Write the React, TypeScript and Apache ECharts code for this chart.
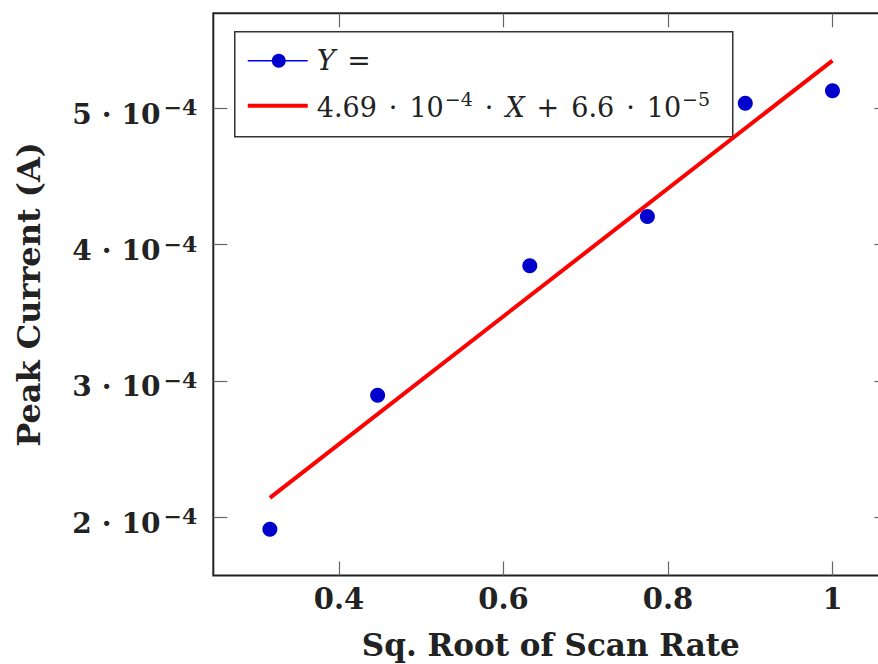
import React, { useEffect, useRef } from "react";
import * as echarts from "echarts";

const scanRateRoot = [0.316, 0.447, 0.632, 0.775, 0.894, 1.0];
const peakCurrent = [1.912e-4, 2.896e-4, 3.846e-4, 4.206e-4, 5.038e-4, 5.128e-4];
const fitSlope = 4.69e-4;
const fitIntercept = 6.6e-5;
const xTicks = [0.4, 0.6, 0.8, 1.0];
const yTicks = [2e-4, 3e-4, 4e-4, 5e-4];

const FONT = "DejaVu Serif";

export default function App() {
  const ref = useRef<HTMLDivElement>(null);
  useEffect(() => {
    if (!ref.current) return;
    const chart = echarts.init(ref.current, null, { renderer: "svg" });
    const xMin = 0.2472;
    const xMax = 1.068;
    const yMin = 1.573e-4;
    const yMax = 5.697e-4;
    const fitX = [scanRateRoot[0], scanRateRoot[scanRateRoot.length - 1]];
    const fitData = fitX.map((x) => [x, fitSlope * x + fitIntercept]);
    const pts = scanRateRoot.map((x, i) => [x, peakCurrent[i]]);

    const xLabelFmt = (v: number) => {
      const r = Math.round(v * 10) / 10;
      return r === 1 ? "1" : r.toFixed(1);
    };
    const yLabelFmt = (v: number) => {
      const m = Math.round(v * 1e4);
      return `{m|${m}}{o|·}{m|10}{s|−4}`;
    };
    const tickStyle = { color: "#666", width: 1.2 };

    chart.setOption({
      animation: false,
      grid: {
        left: 213.3,
        top: 13.3,
        width: 675.1,
        height: 562.2,
        show: true,
        borderColor: "#222",
        borderWidth: 2,
        backgroundColor: "transparent",
        containLabel: false,
        outerBoundsMode: "none",
      },
      xAxis: [
        {
          type: "value",
          min: xMin,
          max: xMax,
          position: "bottom",
          axisLine: { show: false },
          splitLine: { show: false },
          axisTick: { show: true, inside: true, length: 14, lineStyle: tickStyle, customValues: xTicks },
          axisLabel: {
            customValues: xTicks,
            formatter: xLabelFmt,
            fontFamily: FONT,
            fontWeight: "bold",
            fontSize: 29,
            color: "#222",
            margin: 9,
          },
          name: "Sq. Root of Scan Rate",
          nameLocation: "middle",
          nameGap: 54,
          nameTextStyle: { fontFamily: FONT, fontWeight: "bold", fontSize: 31, color: "#222" },
        },
        {
          type: "value",
          min: xMin,
          max: xMax,
          position: "top",
          axisLine: { show: false },
          splitLine: { show: false },
          axisTick: { show: true, inside: true, length: 14, lineStyle: tickStyle, customValues: xTicks },
          axisLabel: { show: false, customValues: xTicks },
        },
      ],
      yAxis: [
        {
          type: "value",
          min: yMin,
          max: yMax,
          position: "left",
          axisLine: { show: false },
          splitLine: { show: false },
          axisTick: { show: true, inside: true, length: 14, lineStyle: tickStyle, customValues: yTicks },
          axisLabel: {
            customValues: yTicks,
            formatter: yLabelFmt,
            margin: 16,
            padding: [12, 0, 0, 0],
            rich: {
              m: { fontFamily: FONT, fontWeight: "bold", fontSize: 28, color: "#222", lineHeight: 36, verticalAlign: "middle" },
              o: { fontFamily: FONT, fontWeight: "bold", fontSize: 28, color: "#222", lineHeight: 36, verticalAlign: "middle", padding: [0, 10, 0, 10] },
              s: { fontFamily: FONT, fontWeight: "bold", fontSize: 22, color: "#222", verticalAlign: "top", lineHeight: 22, padding: [0, 0, 0, 3] },
            },
          },
          name: "Peak Current (A)",
          nameLocation: "middle",
          nameGap: 168,
          nameRotate: 90,
          nameTextStyle: { fontFamily: FONT, fontWeight: "bold", fontSize: 32, color: "#222" },
        },
        {
          type: "value",
          min: yMin,
          max: yMax,
          position: "right",
          axisLine: { show: false },
          splitLine: { show: false },
          axisTick: { show: true, inside: true, length: 14, lineStyle: tickStyle, customValues: yTicks },
          axisLabel: { show: false, customValues: yTicks },
        },
      ],
      series: [
        {
          name: "Y =",
          type: "scatter",
          data: pts,
          symbol: "circle",
          symbolSize: 15,
          itemStyle: { color: "#0000cc", opacity: 1 },
          z: 3,
        },
        {
          name: "fit",
          type: "line",
          data: fitData,
          symbol: "none",
          lineStyle: { color: "#ff0000", width: 4 },
          z: 2,
        },
      ],
      graphic: [
        {
          type: "group",
          left: 234,
          top: 31,
          z: 100,
          children: [
            {
              type: "rect",
              shape: { x: 0, y: 0, width: 498, height: 105 },
              style: { fill: "#fff", stroke: "#333", lineWidth: 1.5 },
            },
            {
              type: "line",
              shape: { x1: 13, y1: 29, x2: 73, y2: 29 },
              style: { stroke: "#0000ff", lineWidth: 1.5 },
            },
            {
              type: "circle",
              shape: { cx: 44, cy: 29, r: 7 },
              style: { fill: "#0000cc" },
            },
            {
              type: "text",
              x: 82,
              y: 29,
              style: {
                text: "{i|Y}{o|=}",
                verticalAlign: "middle",
                fill: "#222",
                rich: {
                  i: { fontFamily: FONT, fontStyle: "italic", fontSize: 28, fill: "#222" },
                  o: { fontFamily: FONT, fontSize: 28, fill: "#222", padding: [0, 0, 0, 12] },
                },
              },
            },
            {
              type: "line",
              shape: { x1: 13, y1: 74, x2: 73, y2: 74 },
              style: { stroke: "#ff0000", lineWidth: 4 },
            },
            {
              type: "text",
              x: 82,
              y: 76,
              style: {
                text: "{n|4.69}{o|·}{n|10}{s|−4}{o|·}{i|X}{o|+}{n|6.6}{o|·}{n|10}{s|−5}",
                verticalAlign: "middle",
                fill: "#222",
                rich: {
                  n: { fontFamily: FONT, fontSize: 27, fill: "#222", lineHeight: 36, verticalAlign: "middle" },
                  o: { fontFamily: FONT, fontSize: 27, fill: "#222", lineHeight: 36, verticalAlign: "middle", padding: [0, 12, 0, 12] },
                  i: { fontFamily: FONT, fontStyle: "italic", fontSize: 27, fill: "#222", lineHeight: 36, verticalAlign: "middle" },
                  s: { fontFamily: FONT, fontSize: 19, fill: "#222", lineHeight: 20, verticalAlign: "top", padding: [0, 0, 0, 1] },
                },
              },
            },
          ],
        },
      ],
    });
    return () => chart.dispose();
  }, []);
  return (
    <div style={{ position: "absolute", left: 0, top: 0, width: 878, height: 664, overflow: "hidden" }}>
      <div ref={ref} style={{ position: "absolute", left: 0, top: 0, width: 920, height: 664 }} />
    </div>
  );
}
